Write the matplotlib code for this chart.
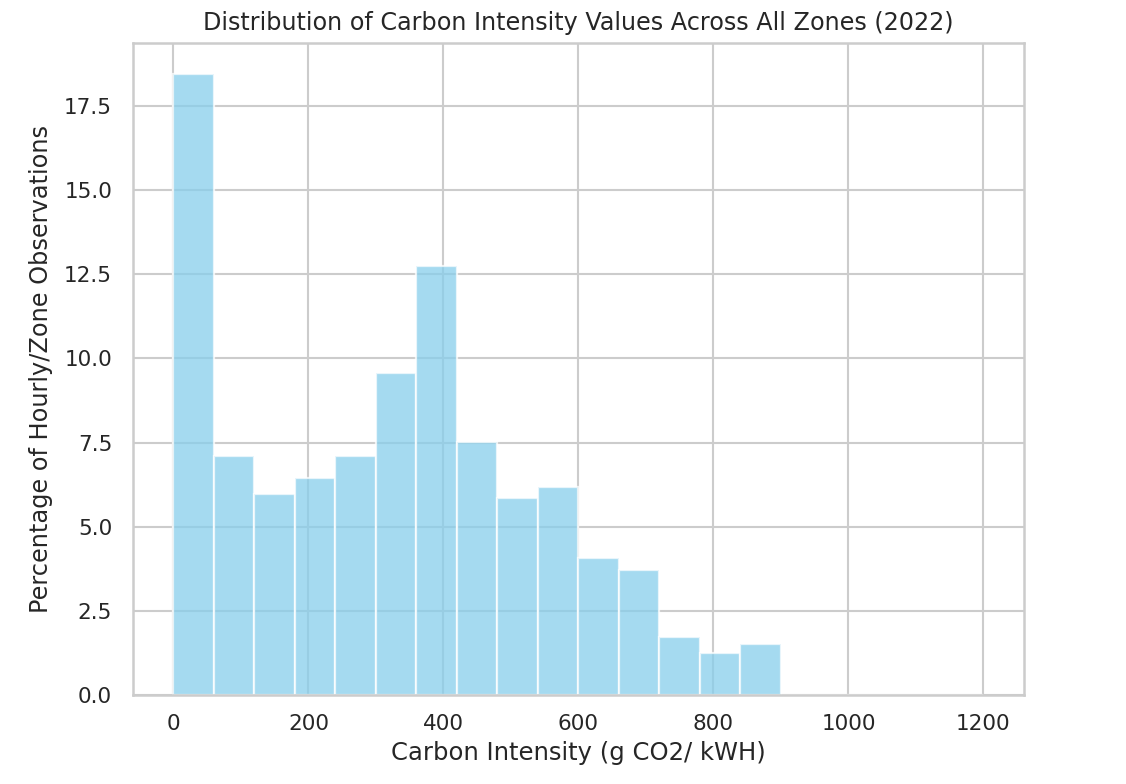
import numpy as np
import seaborn as sns
from matplotlib import pyplot as plt

# histogram bins (g CO2 / kWh) and share of hourly/zone observations (%)
bin_edges = [0, 60, 120, 180, 240, 300, 360, 420, 480, 540, 600, 660, 720,
             780, 840, 900, 960, 1020, 1080, 1140, 1200]
pct_values = [18.45, 7.10, 5.97, 6.45, 7.10, 9.57, 12.76, 7.52, 5.85, 6.18,
              4.08, 3.71, 1.73, 1.24, 1.52, 0.0, 0.0, 0.0, 0.0, 0.0]

fig_title = 'Distribution of Carbon Intensity Values Across All Zones (2022)'
x_label = 'Carbon Intensity (g CO2/ kWH)'
y_label = 'Percentage of Hourly/Zone Observations'

sns.set_theme(style='whitegrid')
plt.rcParams['font.family'] = ['DejaVu Sans']

fig = plt.figure(figsize=(11.26, 7.84), dpi=100)
ax = fig.add_axes([0.1181, 0.1135, 0.7913, 0.8317])

left = np.array(bin_edges[:-1])
widths = np.diff(bin_edges)
ax.bar(left, pct_values, width=widths, align='edge', color='skyblue',
       alpha=0.75, edgecolor='white', linewidth=1.6)

ax.set_xticks([0, 200, 400, 600, 800, 1000, 1200])
ax.set_yticks(np.arange(0, 18, 2.5))
ax.tick_params(labelsize=15.5, colors='#262626')
ax.tick_params(axis='x', pad=7.5)
ax.tick_params(axis='y', pad=9)
ax.grid(True, color='#cccccc', linewidth=1.5)
ax.set_xlabel(x_label, fontsize=17.5, color='#262626', labelpad=5)
ax.set_ylabel(y_label, fontsize=17.3, color='#262626', labelpad=8)
ax.set_title(fig_title, fontsize=17.2, color='#262626', pad=9)
for sp in ax.spines.values():
    sp.set_linewidth(1.8)
    sp.set_color('#cccccc')

fig.savefig('out.png', dpi=100)
